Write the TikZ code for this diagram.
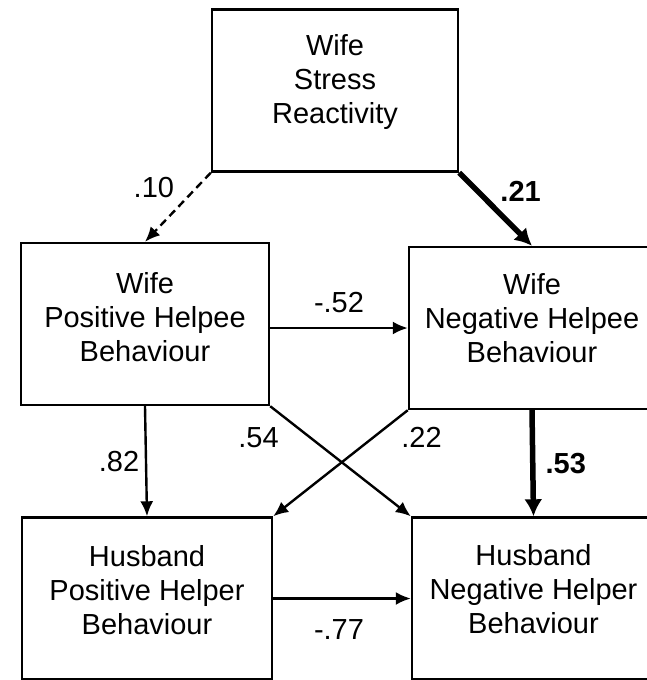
\documentclass[tikz,border=0pt]{standalone}
\usepackage{fontspec}
\setmainfont{Liberation Sans}
\usetikzlibrary{arrows.meta,positioning}

\begin{document}
\begin{tikzpicture}[x=1pt,y=-1pt,
    font=\fontsize{29}{34}\selectfont,
    box/.style={draw, line width=2.4pt, minimum width=#1, minimum height=162pt, inner sep=0pt},
    txt/.style={align=center, inner sep=0pt},
    link/.style={line width=2.4pt, -{Latex[length=15pt,width=13pt]}},
    strong/.style={line width=5.5pt, -{Latex[length=17pt,width=18pt]}},
    weak/.style={link, dash pattern=on 8pt off 5pt}]
  \clip (0,0) rectangle (647,680);
  % boxes
  \node[box=246pt] (wsr) at (335,90.5) {};
  \node[box=248pt] (wph) at (145,324) {};
  \node[box=246pt] (wnh) at (532,328) {};
  \node[box=250pt] (hph) at (147,598.5) {};
  \node[box=243pt] (hnh) at (533.5,598.5) {};
  \node[txt] (wsr-t) at ([yshift=8pt]wsr.center) {Wife\\Stress\\Reactivity};
  \node[txt] (wph-t) at ([yshift=7pt]wph.center) {Wife\\Positive Helpee\\Behaviour};
  \node[txt] (wnh-t) at ([yshift=10pt]wnh.center) {Wife\\Negative Helpee\\Behaviour};
  \node[txt] (hph-t) at ([yshift=8pt]hph.center) {Husband\\Positive Helper\\Behaviour};
  \node[txt] (hnh-t) at ([yshift=9pt]hnh.center) {Husband\\Negative Helper\\Behaviour};
  % paths
  \draw[weak] (wsr.south west) -- (wph.north) node[midway, xshift=-24pt, yshift=20pt] {.10};
  \draw[strong] (wsr.south east) -- (wnh.north) node[midway, xshift=25pt, yshift=18pt] {\textbf{.21}};
  \draw[link] (wph.east |- wnh.west) -- (wnh.west) node[midway, yshift=25pt] {-.52};
  \draw[link] (wph.south) -- (hph.north) node[midway, xshift=-27pt] {.82};
  \draw[link] (wph.south east) -- (hnh.north west) node[midway, xshift=-82pt, yshift=24pt] {.54};
  \draw[link] (wnh.south west) -- (hph.north east) node[midway, xshift=81pt, yshift=26pt] {.22};
  \draw[strong] (wnh.south) -- (hnh.north) node[midway, xshift=33pt] {\textbf{.53}};
  \draw[link] (hph.east) -- (hnh.west) node[midway, xshift=-3pt, yshift=-31pt] {-.77};
\end{tikzpicture}
\end{document}
